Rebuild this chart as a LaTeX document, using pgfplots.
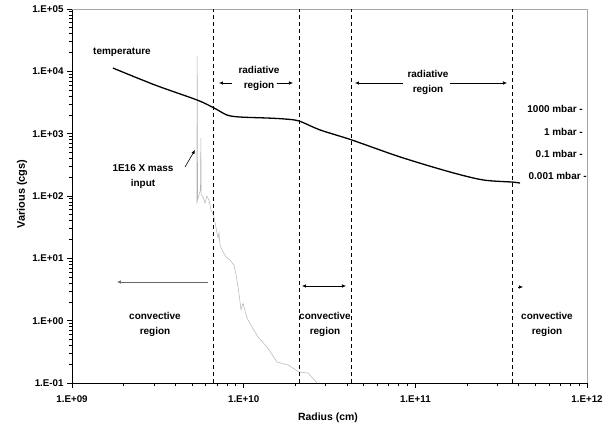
\documentclass[border=0pt]{standalone}
\usepackage{pgfplots}
\usepackage{pgfplotstable}
\usepackage{fontspec}
\setmainfont{Liberation Sans}
\usetikzlibrary{arrows.meta}
\pgfplotsset{compat=1.18}

% temperature profile
\pgfplotstableread{
r T
1.73e9 11300
3.04e9 6040
5.35e9 3467
6.72e9 2582
8.0e9 1990
9.5e9 1850
1.368e10 1783
1.74e10 1718
2.10e10 1596
2.79e10 1146
4.27e10 791
8.15e10 423
1.59e11 243
2.48e11 181
3.70e11 167
4.07e11 161
}\temptab

% 1E16 X mass input
\pgfplotstableread{
r m
5.33e9 74
5.36e9 17600
5.39e9 86
5.60e9 125
5.63e9 850
5.66e9 104
5.80e9 96
5.95e9 77
6.11e9 100
6.28e9 86
6.45e9 60
6.72e9 46
6.90e9 31
7.09e9 21
7.18e9 26
7.28e9 16.4
7.48e9 13.6
7.89e9 10.5
8.32e9 9.4
8.78e9 7.8
9.02e9 5.5
9.27e9 3.5
9.50e9 2.1
9.65e9 1.5
9.91e9 1.9
1.046e10 1.10
1.118e10 0.79
1.212e10 0.547
1.368e10 0.378
1.564e10 0.217
1.813e10 0.195
2.10e10 0.150
2.37e10 0.1445
2.675e10 0.1
}\masstab

\begin{document}
\begin{tikzpicture}[font=\bfseries]
\path[use as bounding box] (-72bp,-46bp) rectangle (539bp,383bp);
\begin{axis}[
    scale only axis,
    width=515bp, height=374bp,
    xmode=log, ymode=log,
    xmin=1e9, xmax=1e12,
    ymin=1e-1, ymax=1e5,
    axis x line*=bottom, axis y line*=left,
    axis line style={-, black, line width=0.9bp},
    xtick={1e9,1e10,1e11,1e12},
    xticklabels={1.E+09,1.E+10,1.E+11,1.E+12},
    ytick={1e-1,1,1e1,1e2,1e3,1e4,1e5},
    yticklabels={1.E-01,1.E+00,1.E+01,1.E+02,1.E+03,1.E+04,1.E+05},
    minor tick num=0,
    tick align=outside,
    major tick length=5bp,
    tick style={black, line width=0.8bp},
    ticklabel style={font=\fontsize{9.8}{11}\selectfont\bfseries},
    xticklabel style={yshift=-4bp},
    clip=false,
]
\draw[gray!70, line width=0.6bp] (rel axis cs:0,1) -- (rel axis cs:1,1) -- (rel axis cs:1,0);
\addplot[gray!60, line width=0.5bp] table[x=r, y=m] {\masstab};
\addplot[black, line width=1.3bp, smooth] table[x=r, y=T] {\temptab};
\foreach \xv in {6.7e9, 2.1e10, 4.27e10, 3.7e11} {
  \edef\tmp{\noexpand\draw[black, line width=0.9bp, dash pattern=on 4bp off 3bp]
    (axis cs:\xv,0.1) -- (axis cs:\xv,1e5);}
  \tmp
}
\end{axis}
\begin{scope}[shift={(-72bp,383bp)}, x=1bp, y=-1bp,
  every node/.style={font=\fontsize{10}{15}\selectfont\bfseries, align=center, inner sep=0pt},
  arr/.style={-{Latex[length=4bp,width=3.5bp]}, line width=0.6bp}]
\node[rotate=90, font=\fontsize{11}{13}\selectfont\bfseries] at (22,194) {Various (cgs)};
\node[font=\fontsize{10.5}{13}\selectfont\bfseries] at (328,418) {Radius (cm)};
\node at (122,52) {temperature};
\node at (259,78) {radiative\\region};
\draw[arr] (232,83) -- (219,83);
\draw[arr] (277,83) -- (293,83);
\node at (428,82) {radiative\\region};
\draw[arr] (403,83) -- (355,83);
\draw[arr] (450,83) -- (507,83);
\node[anchor=east] at (583,109) {1000 mbar -};
\node[anchor=east] at (583,132) {1 mbar -};
\node[anchor=east] at (583,154) {0.1 mbar -};
\node[anchor=east] at (587,176) {0.001 mbar -};
\node at (143,177) {1E16 X mass\\input};
\draw[arr] (185,167) -- (195,150);
\node at (155,324) {convective\\region};
\draw[arr, draw=gray!80!black] (208,282) -- (117,282);
\node at (325,324) {convective\\region};
\draw[{Latex[length=4bp,width=3.5bp]}-{Latex[length=4bp,width=3.5bp]}, line width=0.6bp] (302,286) -- (346,286);
\node at (547,324) {convective\\region};
\draw[arr] (518,287) -- (523,287);
\end{scope}
\end{tikzpicture}
\end{document}
